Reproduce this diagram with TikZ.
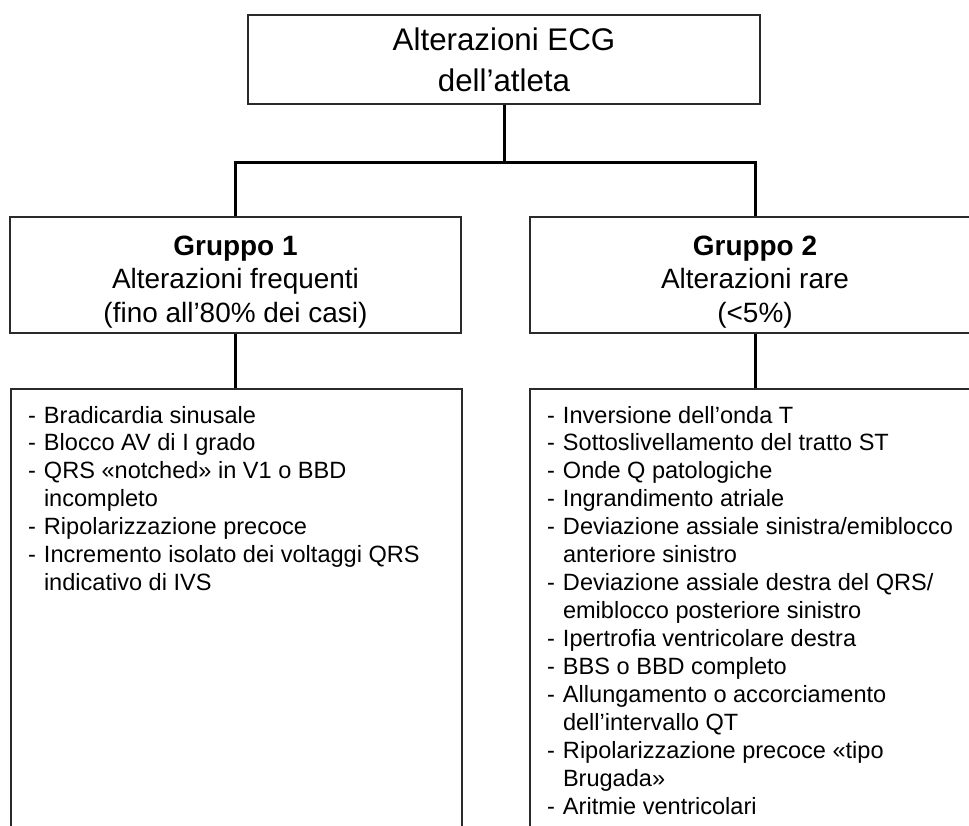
\documentclass[tikz,border=0pt]{standalone}
\usepackage{fontspec}
\setmainfont{Liberation Sans}
\usetikzlibrary{positioning}
\definecolor{edge}{HTML}{2A2A2A}
\tikzset{
  ecg box/.style={
    draw=edge,
    line width=1.1pt,
    fill=white,
    align=center,
    inner sep=0pt,
  },
  title box/.style={
    ecg box,
    minimum width=10.24cm,
    minimum height=1.78cm,
    font=\fontsize{17.8}{23.5}\selectfont,
  },
  group box/.style={
    ecg box,
    minimum width=9.02cm,
    minimum height=2.32cm,
    font=\fontsize{15.9}{19}\selectfont,
  },
  list box/.style={
    ecg box,
    minimum width=9.02cm,
    anchor=north,
    font=\fontsize{13.4}{15.9}\selectfont,
  },
  link/.style={
    black,
    line width=1.7pt,
  },
}
\newcommand{\gruppo}[3]{\parbox[c][2.32cm][t]{8.9cm}{\centering
  \vspace{0.38cm}\textbf{#1}\\#2\\#3\par}}
\newcommand{\voci}[2]{\parbox[c][9.3cm][t]{#1}{\vspace{0.29cm}%
  \begin{tabular}{@{}p{0.32cm}@{}l@{}}#2\end{tabular}}}

\begin{document}
\begin{tikzpicture}

  \useasboundingbox (0,0) rectangle (19.38,-16.5);
  \clip (0,0) rectangle (19.38,-16.5);
  \fill[white] (0,0) rectangle (19.38,-16.5);

  % --- Top box ---
  \node[title box] (ecg) at (10.08,-1.19) {Alterazioni ECG\\dell’atleta};

  % --- Groups ---
  \node[group box] (g1) at (4.71,-5.5)
    {\gruppo{Gruppo 1}{Alterazioni frequenti}{(fino all’80\% dei casi)}};
  \node[group box, minimum width=9.6cm] (g2) at (15.4,-5.5)
    {\hspace*{-0.6cm}\gruppo{Gruppo 2}{Alterazioni rare}{(<5\%)}};

  % --- Lists ---
  \node[list box, below=1.08cm of g1, xshift=0.02cm] (l1) {\voci{8.34cm}{
    - & Bradicardia sinusale\\
    - & Blocco AV di I grado\\
    - & QRS «notched» in V1 o BBD\\
      & incompleto\\
    - & Ripolarizzazione precoce\\
    - & Incremento isolato dei voltaggi QRS\\
      & indicativo di IVS}};
  \node[list box, minimum width=9.6cm, below=1.08cm of g2] (l2) {\voci{8.92cm}{
    - & Inversione dell’onda T\\
    - & Sottoslivellamento del tratto ST\\
    - & Onde Q patologiche\\
    - & Ingrandimento atriale\\
    - & Deviazione assiale sinistra/emiblocco\\
      & anteriore sinistro\\
    - & Deviazione assiale destra del QRS/\\
      & emiblocco posteriore sinistro\\
    - & Ipertrofia ventricolare destra\\
    - & BBS o BBD completo\\
    - & Allungamento o accorciamento\\
      & dell’intervallo QT\\
    - & Ripolarizzazione precoce «tipo\\
      & Brugada»\\
    - & Aritmie ventricolari}};

  % --- Connections ---
  \coordinate (fork) at ([yshift=-1.16cm]ecg.south);
  \draw[link] (ecg.south) -- (fork);
  \draw[link] (fork) -| (g1.north);
  \draw[link] (fork) -| ([xshift=-0.3cm]g2.north);
  \draw[link] (g1.south) -- (g1.south |- l1.north);
  \draw[link] ([xshift=-0.3cm]g2.south) -- ([xshift=-0.3cm]l2.north);

\end{tikzpicture}
\end{document}
